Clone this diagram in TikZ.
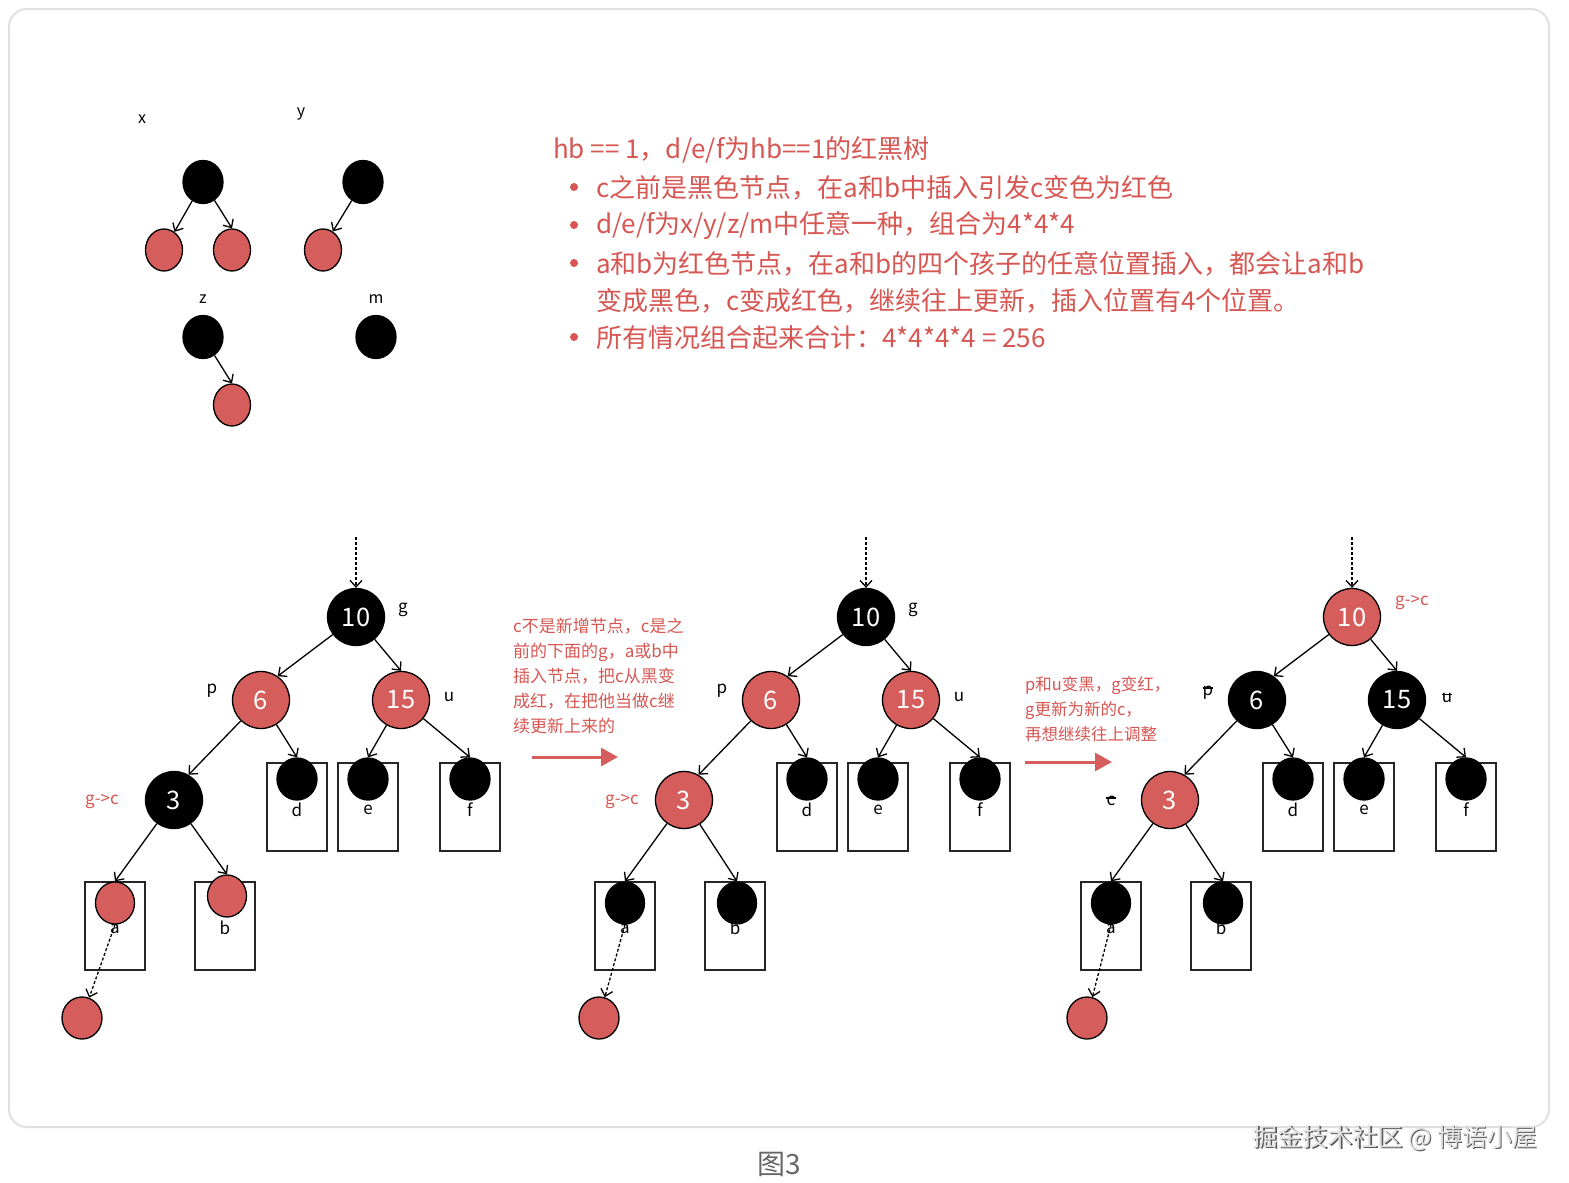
\documentclass[tikz,border=0pt]{standalone}
\usepackage{fontspec}
\setmainfont{Noto Sans CJK SC}
\usetikzlibrary{arrows.meta,shapes.geometric}
\definecolor{rd}{RGB}{213,94,92}
\definecolor{txtred}{RGB}{214,86,82}
\definecolor{framegray}{RGB}{224,224,224}
\newcommand\strikelbl[1]{\ooalign{#1\cr\hidewidth\rule[.42em]{.62em}{.07em}\hidewidth\cr}}
\tikzset{
  bignode/.style={circle, draw=black, line width=1.3pt, minimum size=57pt,
    inner sep=0pt, text=white, font=\fontsize{25.5}{25.5}\selectfont},
  ball/.style={ellipse, draw=black, line width=1.3pt, minimum width=40pt,
    minimum height=42pt, inner sep=0pt},
  smallred/.style={ball, fill=rd, minimum width=37pt},
  smallblack/.style={ball, fill=black, minimum height=43pt},
  leafbox/.style={draw=black!85, line width=1.4pt, minimum width=60pt,
    minimum height=88pt, inner sep=0pt},
  lbl/.style={font=\fontsize{17}{17}\selectfont, inner sep=0pt},
  redlbl/.style={lbl, text=txtred},
  maintext/.style={anchor=west, inner sep=0pt, text=txtred,
    font=\fontsize{26}{26}\selectfont},
  notetext/.style={anchor=north west, inner sep=0pt, text=txtred, align=left},
  link/.style={line width=1.3pt, -{Straight Barb[length=6.5pt,width=12pt]}},
  dotlink/.style={link, dash pattern=on 3pt off 2pt},
  bigarrow/.style={draw=rd, line width=3pt, -{Triangle[length=17pt,width=18pt]}},
}
\begin{document}
\begin{tikzpicture}[x=1pt,y=-1pt]
  \useasboundingbox (0,0) rectangle (1569,1183);
  % Card frame
  \draw[framegray, line width=2pt, rounded corners=18pt] (9,9) rectangle (1549,1127);

  % Small trees with hb == 1
  \node[lbl, font=\fontsize{16}{16}\selectfont] (xlbl) at (142,119) {x};
  \node[smallblack] (xr) at (203,182) {};
  \node[smallred] (xa) at (164,250) {};
  \node[smallred] (xb) at (232,250) {};
  \draw[link] (xr) -- (xa.60);
  \draw[link] (xr) -- (xb.north);
  \node[lbl, font=\fontsize{16}{16}\selectfont] (ylbl) at (301,114) {y};
  \node[smallblack] (yr) at (363,182) {};
  \node[smallred] (ya) at (323,250) {};
  \draw[link] (yr) -- (ya.62);
  \node[lbl, font=\fontsize{16}{16}\selectfont] (zlbl) at (203,299) {z};
  \node[smallblack] (zr) at (203,337) {};
  \node[smallred] (za) at (232,405) {};
  \draw[link] (zr) -- (za.north);
  \node[lbl, font=\fontsize{16}{16}\selectfont] (mlbl) at (376,299) {m};
  \node[smallblack] (mr) at (376,337) {};

  % Explanation
  \node[maintext] (t0) at (553,150) {hb == 1，d/e/f为hb==1的红黑树};
  \foreach \y in {187,225,263,337} {
    \fill[txtred] (574,\y) circle (4pt);
  }
  \node[maintext] (t1) at (596,188) {c之前是黑色节点，在a和b中插入引发c变色为红色};
  \node[maintext] (t2) at (596,226) {d/e/f为x/y/z/m中任意一种，组合为4*4*4};
  \node[maintext] (t3) at (596,264) {a和b为红色节点，在a和b的四个孩子的任意位置插入，都会让a和b};
  \node[maintext] (t4) at (596,301) {变成黑色，c变成红色，继续往上更新，插入位置有4个位置。};
  \node[maintext] (t5) at (596,338) {所有情况组合起来合计：4*4*4*4 = 256};

  % Three steps of the same subtree
  \foreach \dx/\t/\gc/\pc/\cc/\lc/\by/\nx in
      {0/A/black/rd/black/rd/896/82,
       510/B/black/rd/rd/black/903/89,
       996/C/rd/black/rd/black/903/91} {
    \begin{scope}[shift={(\dx,0)}]
      \coordinate (top\t) at (356,537);
      \node[bignode, fill=\gc] (g\t) at (356,617) {10};
      \node[bignode, fill=\pc] (p\t) at (261,700) {6};
      \node[bignode, fill=\pc] (u\t) at (401,700) {15};
      \node[bignode, fill=\cc] (c\t) at (174,800) {3};
      % subtrees d, e, f
      \foreach \s/\x in {d/297,e/368,f/470} {
        \node[leafbox] (\s box\t) at (\x,807) {};
        \node[lbl] (\s lbl\t) at (\x,810) {\s};
        \node[ball, fill=black] (\s\t) at (\x,779) {};
      }
      % children a and b of c
      \node[leafbox] (abox\t) at (115,926) {};
      \node[lbl] (albl\t) at (115,929) {a};
      \node[ball, fill=\lc, minimum width=39pt] (a\t) at (115,903) {};
      \node[leafbox] (bbox\t) at (225,926) {};
      \node[lbl] (blbl\t) at (225,928) {b};
      \node[ball, fill=\lc, minimum width=39pt] (b\t) at (227,\by) {};
      % inserted node
      \node[ball, fill=rd] (n\t) at (\nx,1018) {};
      \draw[dotlink] (top\t) -- (g\t);
      \draw[link] (g\t) -- (p\t.55);
      \draw[link] (g\t) -- (u\t.north);
      \draw[link] (p\t) -- (c\t.60);
      \draw[link] (p\t) -- (d\t.north);
      \draw[link] (u\t) -- (e\t.north);
      \draw[link] (u\t) -- (f\t.north);
      \draw[link] (c\t) -- (a\t.north);
      \draw[link] (c\t) -- (b\t.north);
      \draw[dotlink] (a\t.south) -- (n\t);
    \end{scope}
  }

  % Role labels
  \node[lbl] (glblA) at (403,610) {g};
  \node[lbl] (plblA) at (212,691) {p};
  \node[lbl] (ulblA) at (449,697) {u};
  \node[redlbl] (clblA) at (102,802) {g->c};
  \node[lbl] (glblB) at (913,610) {g};
  \node[lbl] (plblB) at (722,691) {p};
  \node[lbl] (ulblB) at (959,697) {u};
  \node[redlbl] (clblB) at (622,802) {g->c};
  \node[redlbl] (glblC) at (1412,603) {g->c};
  \node[lbl] (plblC) at (1208,691) {\strikelbl{p}};
  \node[lbl] (ulblC) at (1447,698) {\strikelbl{u}};
  \node[lbl] (clblC) at (1111,801) {\strikelbl{c}};

  % Notes between the steps
  \node[notetext, font=\fontsize{17}{25}\selectfont] (note1) at (513,618)
    {c不是新增节点，c是之\\前的下面的g，a或b中\\插入节点，把c从黑变\\成红，在把他当做c继\\续更新上来的};
  \coordinate (arr1s) at (532,757);
  \coordinate (arr1e) at (618,757);
  \draw[bigarrow] (arr1s) -- (arr1e);
  \node[notetext, font=\fontsize{16.5}{25}\selectfont] (note2) at (1025,676)
    {p和u变黑，g变红，\\g更新为新的c，\\再想继续往上调整};
  \coordinate (arr2s) at (1025,762);
  \coordinate (arr2e) at (1112,762);
  \draw[bigarrow] (arr2s) -- (arr2e);

  % Caption and watermark
  \node[font=\fontsize{28}{28}\selectfont, text=black!60] (cap) at (779,1164) {图3};
  \node[font=\fontsize{25}{25}\selectfont, text=black!65] (wmshadow) at (1396.5,1139.5) {掘金技术社区 @ 博语小屋};
  \node[font=\fontsize{25}{25}\selectfont, text=black!12] (wm) at (1395,1138) {掘金技术社区 @ 博语小屋};
\end{tikzpicture}
\end{document}
